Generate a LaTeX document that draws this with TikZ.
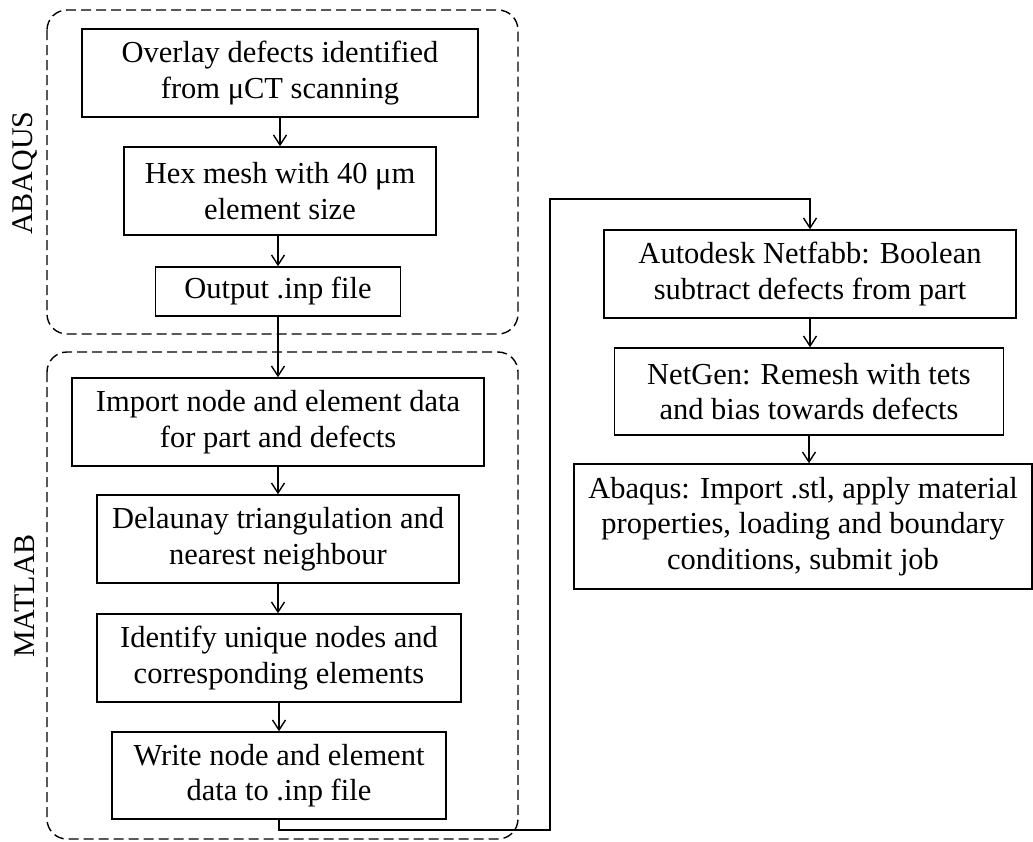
\documentclass[tikz,border=0pt]{standalone}
\usepackage{fontspec}
\setmainfont{Liberation Serif}
\usetikzlibrary{arrows.meta}
\begin{document}
\begin{tikzpicture}[x=1pt,y=-1pt,
  stepbox/.style={draw,line width=1.5pt,inner sep=0pt,align=center,
    font=\fontsize{30.5}{35.5}\selectfont},
  group/.style={draw,line width=1.4pt,dash pattern=on 10pt off 5pt,rounded corners=20pt},
  grouplabel/.style={rotate=90,font=\fontsize{30}{35}\selectfont,inner sep=0pt},
  flow/.style={line width=1.4pt,-{Straight Barb[length=10pt,width=13pt,line width=1.4pt]}},
  plain/.style={line width=1.4pt}]
\useasboundingbox (0,0) rectangle (1033,841);
% groups
\draw[group] (47,10) rectangle (518,334);
\draw[group] (47,352) rectangle (518,839);
\node[grouplabel] (labA) at (25,173) {ABAQUS};
\node[grouplabel] (labM) at (25,596) {MATLAB};
% left column
\node[stepbox,minimum width=396pt,minimum height=88pt] (overlay) at (280,73)
  {Overlay defects identified\\from μCT scanning};
\node[stepbox,minimum width=312pt,minimum height=88pt] (hex) at (280,191)
  {Hex mesh with 40 μm\\element size};
\node[stepbox,minimum width=245pt,minimum height=49pt] (output) at (278,291.5)
  {Output .inp file};
\node[stepbox,minimum width=412pt,minimum height=88pt] (import) at (278,422)
  {Import node and element data\\for part and defects};
\node[stepbox,minimum width=362pt,minimum height=88pt] (delaunay) at (278,539)
  {Delaunay triangulation and\\nearest neighbour};
\node[stepbox,minimum width=364pt,minimum height=88pt] (identify) at (279,658)
  {Identify unique nodes and\\corresponding elements};
\node[stepbox,minimum width=334pt,minimum height=87pt] (write) at (279,775.5)
  {Write node and element\\data to .inp file};
% right column
\node[stepbox,minimum width=412pt,minimum height=88pt] (netfabb) at (810,274)
  {Autodesk Netfabb: Boolean\\subtract defects from part};
\node[stepbox,minimum width=389pt,minimum height=87pt] (netgen) at (809,391.5)
  {NetGen: Remesh with tets\\and bias towards defects};
\node[stepbox,minimum width=458pt,minimum height=125pt] (abaqus) at (803,526.5)
  {Abaqus: Import .stl, apply material\\properties, loading and boundary\\conditions, submit job};
% connectors
\draw[flow] (overlay.south) -- (overlay.south |- hex.north);
\draw[flow] (hex.south -| output.south) -- (output.north);
\draw[flow] (output.south) -- (output.south |- import.north);
\draw[flow] (import.south) -- (import.south |- delaunay.north);
\draw[flow] (delaunay.south) -- (delaunay.south |- identify.north);
\draw[flow] (identify.south) -- (identify.south |- write.north);
\coordinate (r1) at (550,830);
\coordinate (r2) at (550,199);
\draw[flow] (write.south) |- (r1) -- (r2) -| (netfabb.north);
\draw[flow] (netfabb.south) -- (netfabb.south |- netgen.north);
\draw[flow] (netgen.south) -- (netgen.south |- abaqus.north);
\end{tikzpicture}
\end{document}
